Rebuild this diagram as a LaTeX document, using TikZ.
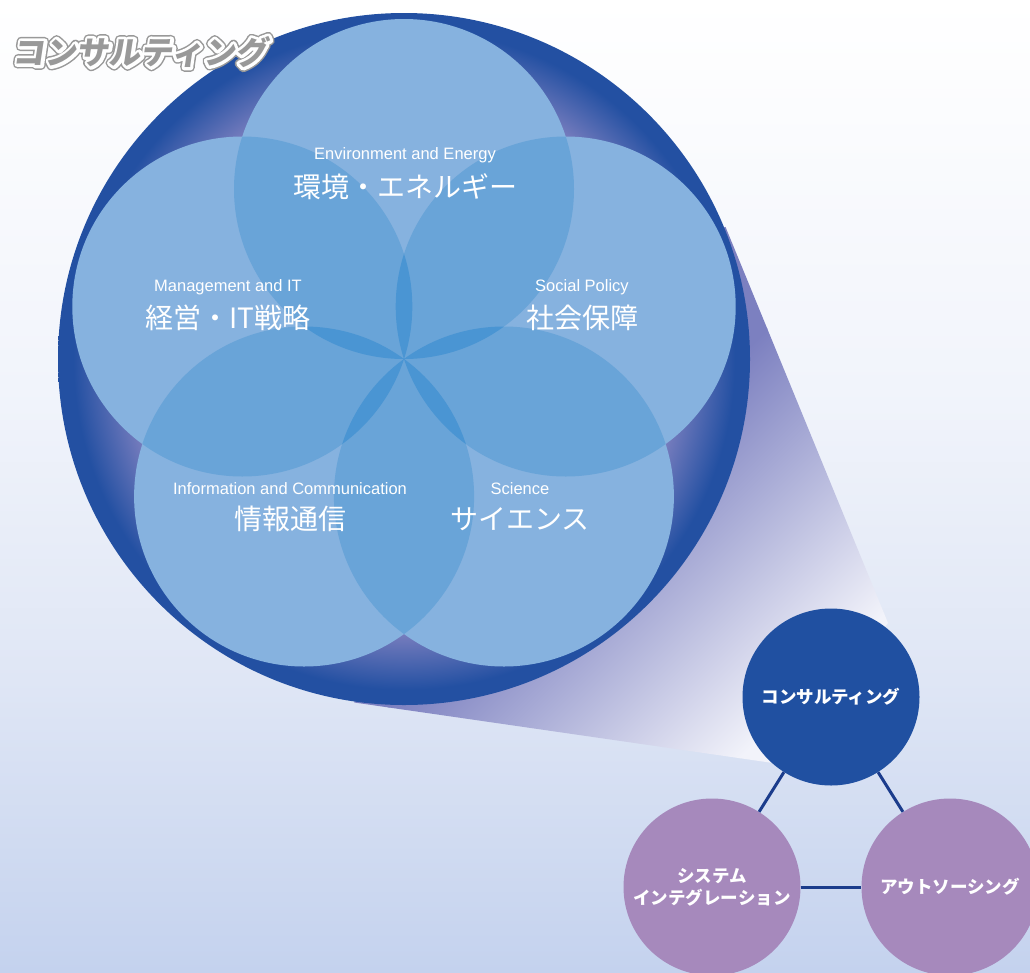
\documentclass[tikz,border=0pt]{standalone}
\usepackage{fontspec}
\newfontfamily\jp{Noto Sans CJK JP}
\newfontfamily\jpsl{Noto Sans CJK JP}[FakeSlant=0.15]
\newfontfamily\en{Liberation Sans}
\definecolor{ringin}{HTML}{7B7FBF}
\definecolor{ringout}{HTML}{2350A2}
\definecolor{cone}{HTML}{86B2DF}
\definecolor{ctwo}{HTML}{69A4D8}
\definecolor{cthree}{HTML}{4A95D3}
\definecolor{consblue}{HTML}{2050A1}
\definecolor{purp}{HTML}{A689BC}
\definecolor{navy}{HTML}{1B3C8C}
\definecolor{tgray}{HTML}{999999}
\definecolor{fpurp}{HTML}{7C80C0}
\definecolor{fwhite}{HTML}{F2F3FA}
\definecolor{bgbot}{HTML}{C4D2EE}
\definecolor{bgmone}{HTML}{DFE6F5}
\definecolor{bgmtwo}{HTML}{F1F4FB}
\pgfdeclareradialshading{ringsh}{\pgfpoint{0bp}{0bp}}{color(0bp)=(ringin); color(19.6bp)=(ringin); color(23.9bp)=(ringout); color(50bp)=(ringout)}
\pgfdeclareverticalshading{bgsh}{100bp}{color(0bp)=(bgbot); color(25bp)=(bgbot); color(40bp)=(bgmone); color(55bp)=(bgmtwo); color(75bp)=(white); color(100bp)=(white)}
\newcommand\strokedtitle[2]{\special{pdf:literal direct #1 RG 2 Tr #2 w 1 j}コンサルティング\special{pdf:literal direct 0 Tr}}
\begin{document}
\begin{tikzpicture}[x=1pt,y=-1pt,
  enlab/.style={text=white, inner sep=0pt, font=\en\fontsize{16.5}{18}\selectfont},
  jplab/.style={text=white, inner sep=0pt, font=\jp\fontsize{28}{30}\selectfont},
  bubble/.style={circle, minimum size=177pt, inner sep=0pt, text=white, align=center,
     font=\jp\bfseries\fontsize{17.5}{22}\selectfont},
  conn/.style={draw=navy, line width=3pt},
  ttl/.style={inner sep=0pt, font=\jpsl\bfseries\fontsize{32}{36}\selectfont}]
\useasboundingbox (0,0) rectangle (1030,972);
\shade[shading=bgsh] (0,0) rectangle (1030,972);
% funnel
\coordinate (C) at (404,359);
\coordinate (ta) at (725.5,226.9);
\coordinate (tb) at (888,623);
\coordinate (tc) at (831,697);
\coordinate (td) at (773,763);
\coordinate (te) at (354.3,702.5);
\begin{scope}
  \clip (ta) -- (tb) -- (tc) -- (td) -- (te) -- (C) -- cycle;
  \begin{scope}[transform canvas={shift={(404,359)},rotate=-45}]
    \fill[fpurp] (-500,-700) rectangle (236,700);
    \shade[left color=fpurp, right color=fwhite] (235,-700) rectangle (520,700);
    \fill[fwhite] (519,-700) rectangle (700,700);
  \end{scope}
\end{scope}
% big ring
\shade[shading=ringsh] (C) circle (346pt);
% five circles
\coordinate (c0) at (404,189);
\coordinate (c1) at (242.3,306.5);
\coordinate (c2) at (304.1,496.5);
\coordinate (c3) at (503.9,496.5);
\coordinate (c4) at (565.7,306.5);
\foreach \i in {0,...,4} {\fill[cone] (c\i) circle (170pt);}
\foreach \i in {0,...,4} {
  \foreach \j in {0,...,4} {
    \ifnum\i<\j
      \begin{scope}
        \clip (c\i) circle (170pt);
        \fill[ctwo] (c\j) circle (170pt);
      \end{scope}
    \fi
  }
}
\foreach \i/\j/\k in {0/1/2,0/1/3,0/1/4,0/2/3,0/2/4,0/3/4,1/2/3,1/2/4,1/3/4,2/3/4} {
  \begin{scope}
    \clip (c\i) circle (170pt);
    \clip (c\j) circle (170pt);
    \fill[cthree] (c\k) circle (170pt);
  \end{scope}
}
% labels
\node[enlab] (envE) at (405,155) {Environment and Energy};
\node[jplab] (envJ) at (405,187) {環境・エネルギー};
\node[enlab] (mgtE) at (228,287) {Management and IT};
\node[jplab] (mgtJ) at (228,318) {経営・IT戦略};
\node[enlab] (socE) at (582,287) {Social Policy};
\node[jplab] (socJ) at (582,318) {社会保障};
\node[enlab] (infE) at (290,489) {Information and Communication};
\node[jplab] (infJ) at (290,519) {情報通信};
\node[enlab] (sciE) at (520,489) {Science};
\node[jplab] (sciJ) at (520,519) {サイエンス};
% title: gray outer stroke, white stroke, gray fill
\node[ttl, text=tgray] (ttlOuter) at (140,52) {\strokedtitle{0.6 0.6 0.6}{9}};
\node[ttl, text=white] (ttlInner) at (140,52) {\strokedtitle{1 1 1}{6}};
\node[ttl, text=tgray] (ttl) at (140,52) {コンサルティング};
% small circles
\node[bubble, fill=consblue] (cons) at (831,697) {コンサルティング};
\node[bubble, fill=purp] (si) at (712,887) {システム\\インテグレーション};
\node[bubble, fill=purp] (os) at (950,887) {アウトソーシング};
\draw[conn] (cons) -- (si);
\draw[conn] (cons) -- (os);
\draw[conn] (si) -- (os);
\end{tikzpicture}
\end{document}
